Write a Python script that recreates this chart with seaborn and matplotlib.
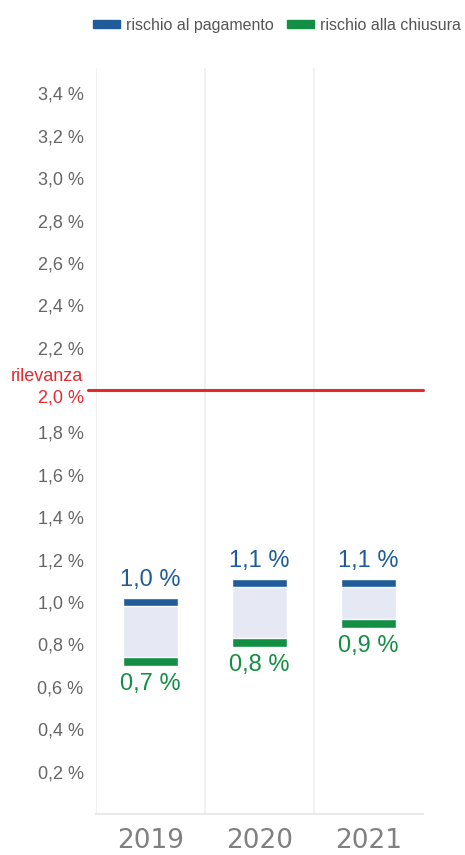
import pandas as pd
import seaborn as sns
import matplotlib.pyplot as plt
from matplotlib.patches import Patch
from matplotlib.transforms import blended_transform_factory, offset_copy

# Data
years = ["2019", "2020", "2021"]
rischio_pagamento = [1.00, 1.09, 1.09]
rischio_chiusura = [0.72, 0.81, 0.90]
rilevanza = 2.0
y_ticks = [0.2, 0.4, 0.6, 0.8, 1.0, 1.2, 1.4, 1.6, 1.8, 2.0,
           2.2, 2.4, 2.6, 2.8, 3.0, 3.2, 3.4]

BLUE = "#1F5C99"
GREEN = "#138F45"
RANGE = "#E6E9F3"
RED = "#E8282D"
GREY = "#666666"

df = pd.DataFrame({
    "anno": years,
    "pagamento": rischio_pagamento,
    "chiusura": rischio_chiusura,
})
df["ampiezza"] = df["pagamento"] - df["chiusura"]

sns.set_theme(style="white")
plt.rcParams["font.family"] = ["Liberation Sans", "DejaVu Sans"]

fig = plt.figure(figsize=(4.65, 8.55), dpi=100)
ax = fig.add_axes([0.2065, 0.048, 0.7032, 0.8725])

thick = 0.042  # marker thickness in data units

# range between the two risks
sns.barplot(data=df, x="anno", y="ampiezza", bottom=df["chiusura"],
            color=RANGE, saturation=1, width=0.5, ax=ax)
# markers for the two values
sns.barplot(data=df, x="anno", y=[thick] * 3, bottom=df["pagamento"] - thick / 2,
            color=BLUE, saturation=1, width=0.5, ax=ax)
sns.barplot(data=df, x="anno", y=[thick] * 3, bottom=df["chiusura"] - thick / 2,
            color=GREEN, saturation=1, width=0.5, ax=ax)

# value labels
for i, row in df.iterrows():
    ax.annotate(f"{row['pagamento']:.1f} %".replace(".", ","),
                (i, row["pagamento"] + thick / 2), xytext=(0, 5),
                textcoords="offset points", ha="center", va="bottom",
                fontsize=17, color=BLUE)
    ax.annotate(f"{row['chiusura']:.1f} %".replace(".", ","),
                (i, row["chiusura"] - thick / 2), xytext=(0, -5),
                textcoords="offset points", ha="center", va="top",
                fontsize=17, color=GREEN)

# relevance threshold
ax.axhline(rilevanza, xmin=-0.025, xmax=1, color=RED, lw=2.2, clip_on=False, zorder=5)
trans = blended_transform_factory(fig.transFigure, ax.transData)
trans = offset_copy(trans, fig=fig, y=4, units="points")
fig.text(83 / 465, rilevanza, "rilevanza", transform=trans, ha="right",
         va="bottom", fontsize=13, color=RED)

# axes
ax.set_xlim(-0.5, 2.5)
ax.set_ylim(0, 3.52)
ax.set_yticks(y_ticks)
ax.set_yticklabels([f"{v:.1f} %".replace(".", ",") for v in y_ticks])
ax.tick_params(axis="y", length=0, pad=9, labelsize=13, labelcolor=GREY)
ax.tick_params(axis="x", length=0, pad=10, labelsize=19, labelcolor="#808080")
for lab in ax.get_xticklabels():
    lab.set_fontfamily("DejaVu Sans")
for lab, v in zip(ax.get_yticklabels(), y_ticks):
    if abs(v - rilevanza) < 1e-9:
        lab.set_color(RED)
        lab.set_transform(offset_copy(lab.get_transform(), fig=fig, y=-4, units="points"))
ax.set_xlabel("")
ax.set_ylabel("")

for x in [-0.5, 0.5, 1.5]:
    ax.axvline(x, color="#EFEFEF", lw=1.2, zorder=0)
for side in ["top", "right", "left"]:
    ax.spines[side].set_visible(False)
ax.spines["bottom"].set_color("#E6E6E6")
ax.spines["bottom"].set_linewidth(1.2)

# legend
handles = [Patch(color=BLUE, label="rischio al pagamento"),
           Patch(color=GREEN, label="rischio alla chiusura")]
fig.legend(handles=handles, loc="center right", bbox_to_anchor=(1.012, 0.97),
           ncol=2, frameon=False, fontsize=11.5, handlelength=1.7,
           handleheight=0.4, handletextpad=0.4, columnspacing=0.8,
           labelcolor="#555555", borderaxespad=0.2)

fig.savefig("out.png", dpi=100)
